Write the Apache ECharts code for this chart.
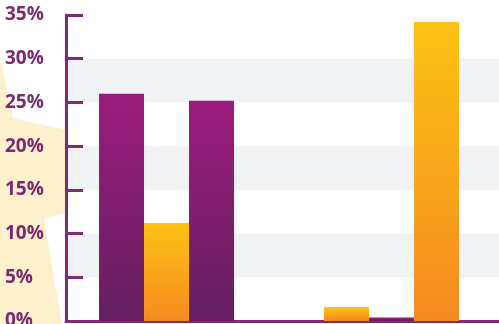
<!DOCTYPE html>
<html>
<head>
<meta charset="utf-8">
<script src="https://cdn.jsdelivr.net/npm/echarts@6/dist/echarts.min.js"></script>
<style>
  html, body { margin: 0; padding: 0; background: #fff; }
  #chart { width: 499px; height: 324px; }
</style>
</head>
<body>
<div id="chart"></div>
<script>
// chart data
const categories = [1, 2, 3, 4];
const purpleValues = [26, 25.2, 0, 0.4];
const orangeValues = [11.2, 0, 1.6, 34.2];
const yTicks = [0, 5, 10, 15, 20, 25, 30, 35];

const labelColor = "#7b2a72";
const axisColor = "#7e2a78";

let chart = echarts.init(document.getElementById("chart"));

function grad(top, bottom) {
  return new echarts.graphic.LinearGradient(0, 0, 0, 1, [
    { offset: 0, color: top },
    { offset: 1, color: bottom }
  ]);
}

let option = {
  animation: false,
  graphic: [
    {
      type: "polygon",
      z: -10,
      silent: true,
      shape: {
        points: [[0, 57], [13, 118], [66, 130], [66, 213], [44, 219], [62, 324], [0, 324]]
      },
      style: { fill: "#fdf0cd" }
    }
  ],
  grid: { left: 66, right: 0, top: 15, bottom: 3, outerBoundsMode: "none", containLabel: false },
  xAxis: {
    type: "value",
    min: 0.133,
    max: 4.944,
    axisLine: { show: true, onZero: false, lineStyle: { color: axisColor, width: 3 } },
    axisTick: { show: false },
    axisLabel: { show: false },
    splitLine: { show: false }
  },
  yAxis: {
    type: "value",
    min: yTicks[0],
    max: yTicks[yTicks.length - 1],
    interval: 5,
    axisLine: { show: true, lineStyle: { color: axisColor, width: 3 } },
    axisTick: { show: true, inside: true, length: 17, lineStyle: { color: axisColor, width: 3 } },
    axisLabel: {
      align: "left",
      margin: 61,
      color: labelColor,
      fontFamily: "Open Sans",
      fontWeight: "bold",
      fontSize: 19,
      formatter: v => v + "%"
    },
    splitLine: { show: false },
    splitArea: {
      show: true,
      areaStyle: { color: ["rgba(0,0,0,0)", "#f1f2f4"] }
    }
  },
  series: [
    {
      type: "bar",
      barWidth: 45,
      barGap: "0%",
      itemStyle: { color: grad("#9b1b7b", "#641f60") },
      data: categories.map((c, i) => [c, purpleValues[i]])
    },
    {
      type: "bar",
      barWidth: 45,
      barGap: "0%",
      itemStyle: { color: grad("#fdc213", "#f58a20") },
      data: categories.map((c, i) => [c, orangeValues[i]])
    }
  ]
};

chart.setOption(option);
</script>
</body>
</html>
